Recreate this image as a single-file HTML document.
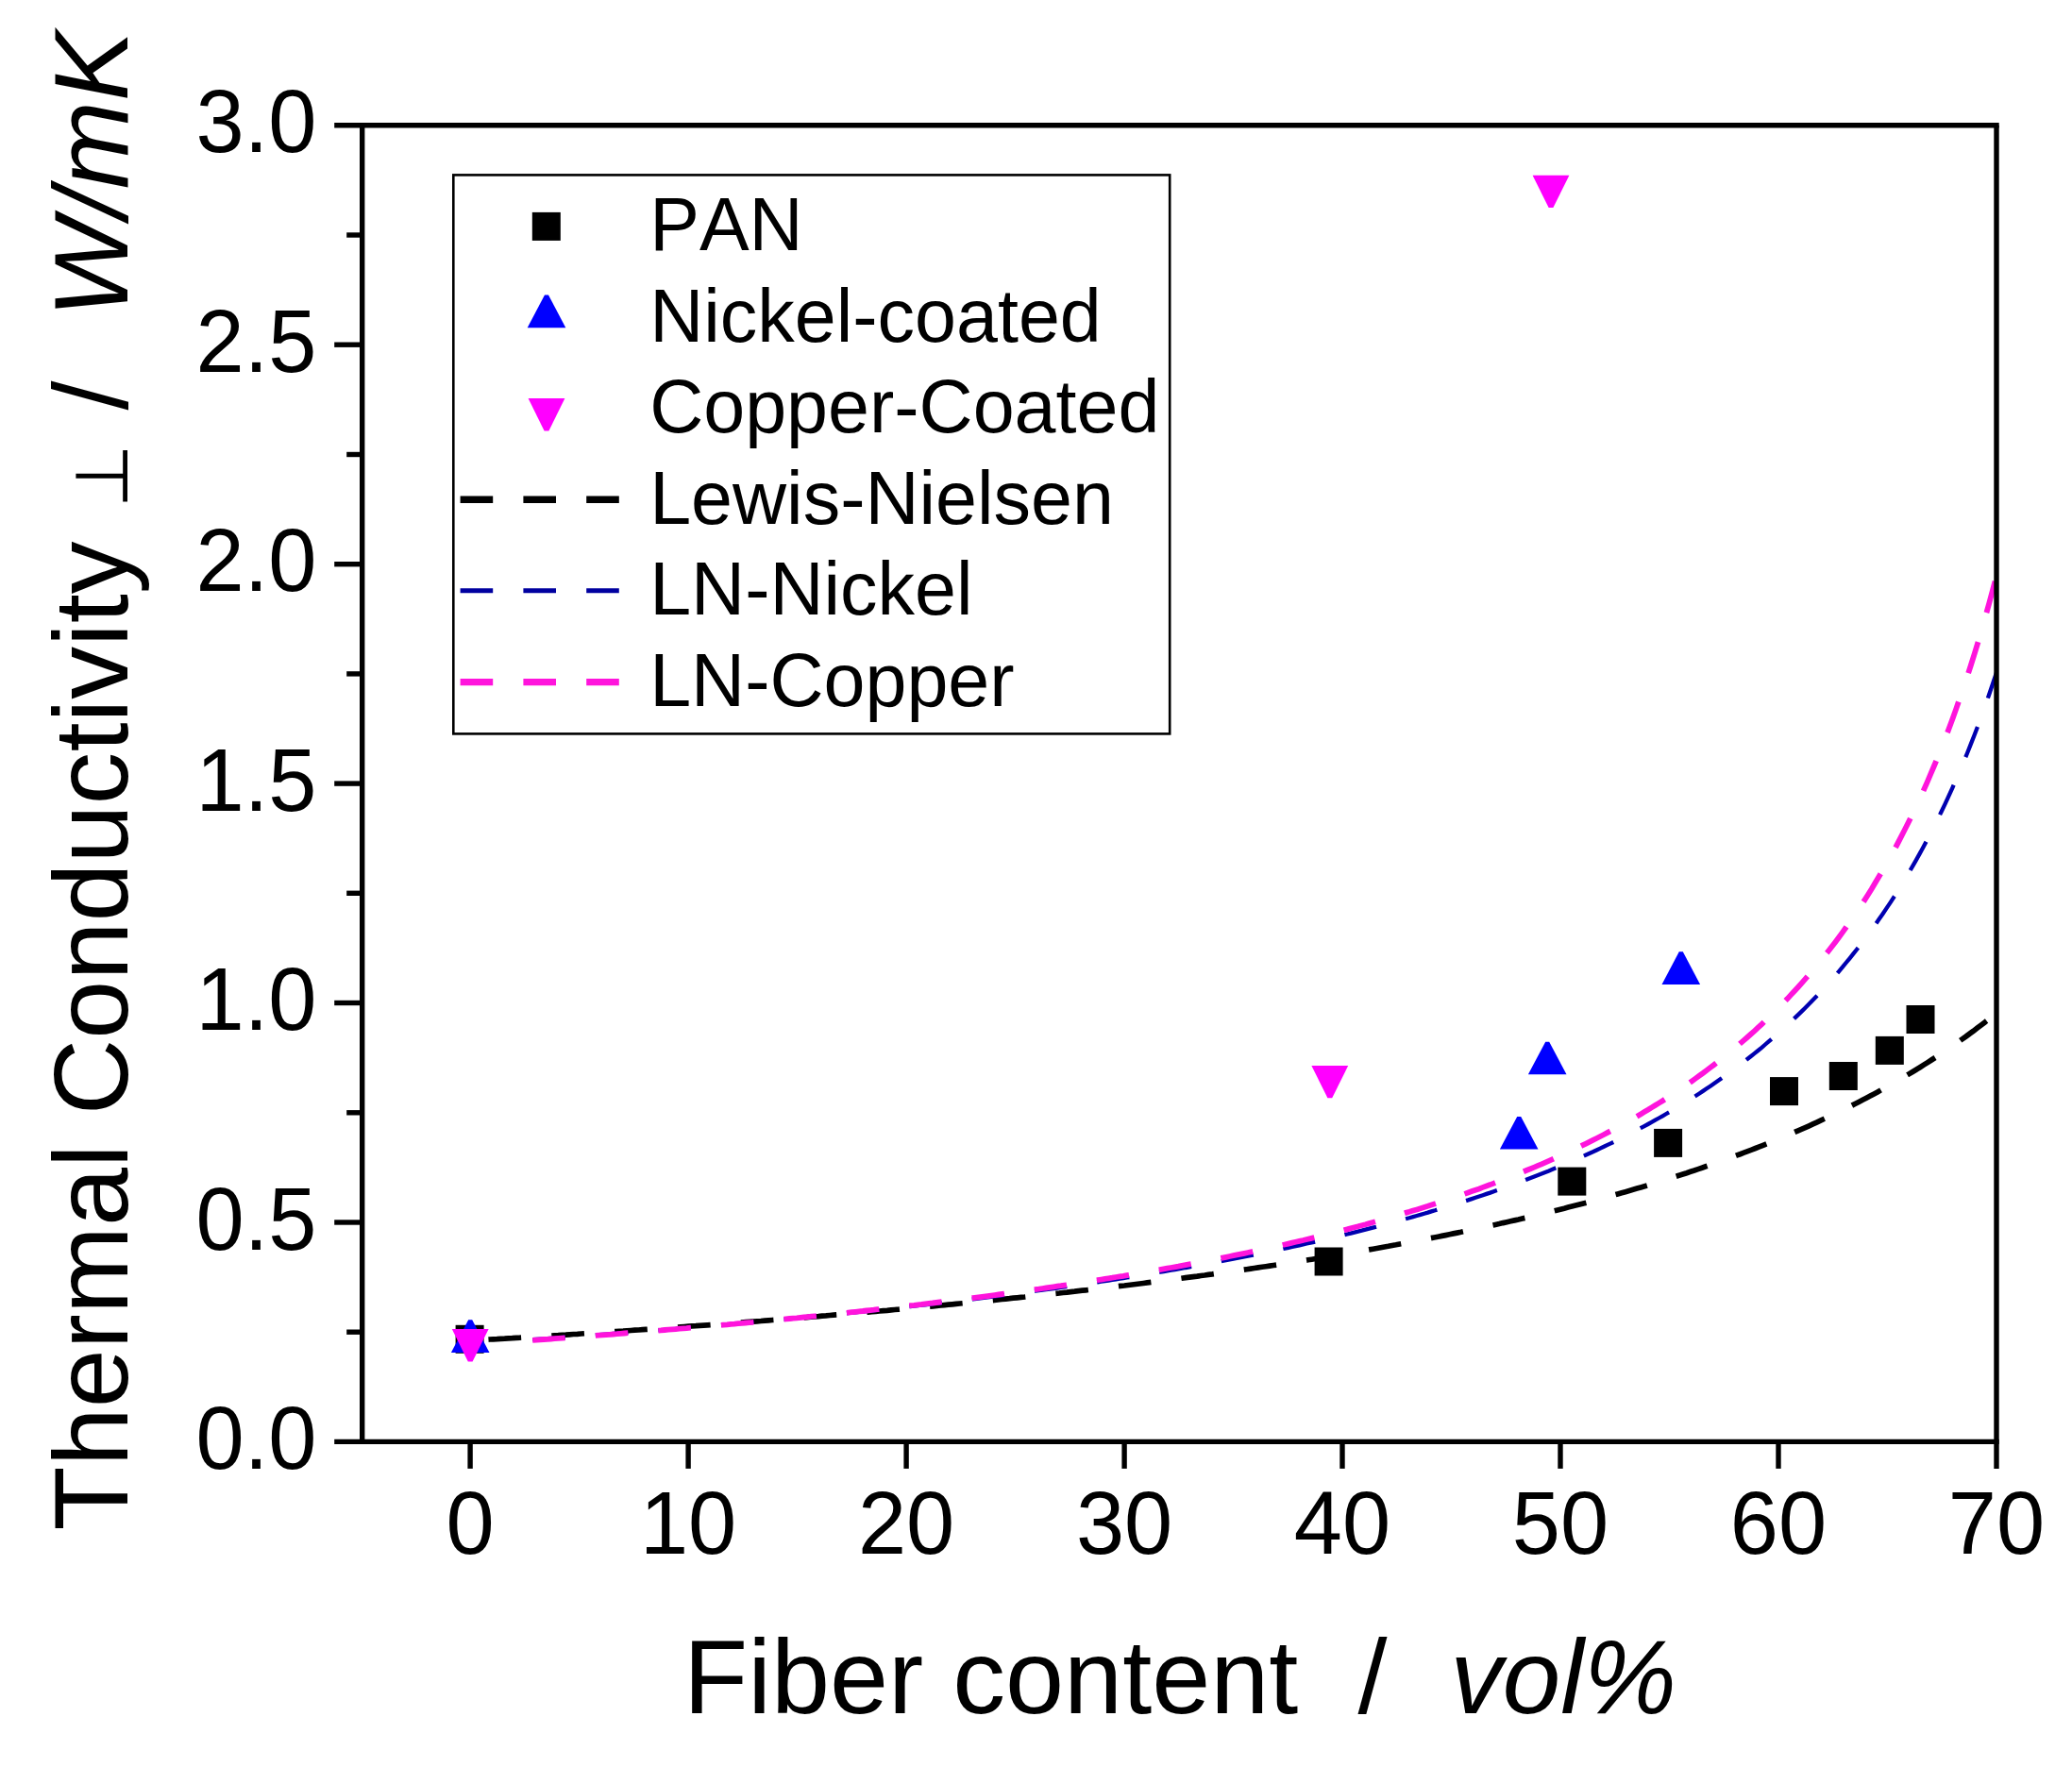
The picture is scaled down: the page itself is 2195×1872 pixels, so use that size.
<!DOCTYPE html><html><head><meta charset="utf-8"><title>Thermal Conductivity vs Fiber content</title>
<style>html,body{margin:0;padding:0;background:#fff;overflow:hidden}svg{display:block}text{font-family:"Liberation Sans",Arial,sans-serif;fill:#000;font-kerning:none;font-variant-ligatures:none}.sym{font-family:"DejaVu Sans","Liberation Sans",sans-serif}</style></head><body>
<svg width="2195" height="1872" viewBox="0 0 2195 1872">
<rect width="2195" height="1872" fill="#fff"/>
<g id="markers">
<rect x="482.6" y="1403.8" width="30" height="30" fill="#000"/>
<rect x="1392.6" y="1321.5" width="30" height="30" fill="#000"/>
<rect x="1650.3" y="1236.6" width="30" height="30" fill="#000"/>
<rect x="1752.1" y="1195.9" width="30" height="30" fill="#000"/>
<rect x="1875.0" y="1141.1" width="30" height="30" fill="#000"/>
<rect x="1937.8" y="1125.0" width="30" height="30" fill="#000"/>
<rect x="1986.8" y="1097.9" width="30" height="30" fill="#000"/>
<rect x="2019.5" y="1065.0" width="30" height="30" fill="#000"/>
<polygon points="496.2,1398.3 500.2,1398.3 518.5,1432.9 477.9,1432.9" fill="#0000ff"/>
<polygon points="1607.2,1182.9 1611.2,1182.9 1629.5,1217.5 1588.9,1217.5" fill="#0000ff"/>
<polygon points="1637.2,1103.7 1641.2,1103.7 1659.5,1138.3 1618.9,1138.3" fill="#0000ff"/>
<polygon points="1778.8,1008.3 1782.8,1008.3 1801.1,1042.9 1760.5,1042.9" fill="#0000ff"/>
<polygon points="495.8,1442.4 500.6,1442.4 517.6,1408.0 478.8,1408.0" fill="#ff00ff"/>
<polygon points="1406.4,1163.3 1411.2,1163.3 1428.2,1128.9 1389.4,1128.9" fill="#ff00ff"/>
<polygon points="1640.6,220.1 1645.4,220.1 1662.4,185.7 1623.6,185.7" fill="#ff00ff"/>
</g>
<g fill="none">
<path d="M498.1 1420.2 L502.2 1420.0 L506.2 1419.8 L510.3 1419.5 L514.3 1419.3 L518.4 1419.0 L522.4 1418.8 L526.5 1418.6 L530.5 1418.3 L534.6 1418.1 L538.6 1417.8 L542.7 1417.6 L546.7 1417.3 L550.8 1417.1 L554.8 1416.8 L558.9 1416.6 L562.9 1416.3 L567.0 1416.1 L571.0 1415.8 L575.1 1415.6 L579.1 1415.3 L583.2 1415.1 L587.3 1414.8 L591.3 1414.6 L595.4 1414.3 L599.4 1414.1 L603.5 1413.8 L607.5 1413.5 L611.6 1413.3 L615.6 1413.0 L619.7 1412.7 L623.7 1412.5 L627.8 1412.2 L631.8 1412.0 L635.9 1411.7 L639.9 1411.4 L644.0 1411.1 L648.0 1410.9 L652.1 1410.6 L656.1 1410.3 L660.2 1410.1 L664.2 1409.8 L668.3 1409.5 L672.4 1409.2 L676.4 1409.0 L680.5 1408.7 L684.5 1408.4 L688.6 1408.1 L692.6 1407.8 L696.7 1407.5 L700.7 1407.3 L704.8 1407.0 L708.8 1406.7 L712.9 1406.4 L716.9 1406.1 L721.0 1405.8 L725.0 1405.5 L729.1 1405.2 L733.1 1404.9 L737.2 1404.7 L741.2 1404.4 L745.3 1404.1 L749.3 1403.8 L753.4 1403.5 L757.5 1403.2 L761.5 1402.9 L765.6 1402.6 L769.6 1402.3 L773.7 1401.9 L777.7 1401.6 L781.8 1401.3 L785.8 1401.0 L789.9 1400.7 L793.9 1400.4 L798.0 1400.1 L802.0 1399.8 L806.1 1399.5 L810.1 1399.1 L814.2 1398.8 L818.2 1398.5 L822.3 1398.2 L826.3 1397.9 L830.4 1397.5 L834.4 1397.2 L838.5 1396.9 L842.6 1396.6 L846.6 1396.2 L850.7 1395.9 L854.7 1395.6 L858.8 1395.2 L862.8 1394.9 L866.9 1394.6 L870.9 1394.2 L875.0 1393.9 L879.0 1393.5 L883.1 1393.2 L887.1 1392.9 L891.2 1392.5 L895.2 1392.2 L899.3 1391.8 L903.3 1391.5 L907.4 1391.1 L911.4 1390.8 L915.5 1390.4 L919.5 1390.1 L923.6 1389.7 L927.7 1389.3 L931.7 1389.0 L935.8 1388.6 L939.8 1388.3 L943.9 1387.9 L947.9 1387.5 L952.0 1387.2 L956.0 1386.8 L960.1 1386.4 L964.1 1386.0 L968.2 1385.7 L972.2 1385.3 L976.3 1384.9 L980.3 1384.5 L984.4 1384.1 L988.4 1383.8 L992.5 1383.4 L996.5 1383.0 L1000.6 1382.6 L1004.6 1382.2 L1008.7 1381.8 L1012.8 1381.4 L1016.8 1381.0 L1020.9 1380.6 L1024.9 1380.2 L1029.0 1379.8 L1033.0 1379.4 L1037.1 1379.0 L1041.1 1378.6 L1045.2 1378.2 L1049.2 1377.8 L1053.3 1377.4 L1057.3 1376.9 L1061.4 1376.5 L1065.4 1376.1 L1069.5 1375.7 L1073.5 1375.2 L1077.6 1374.8 L1081.6 1374.4 L1085.7 1374.0 L1089.7 1373.5 L1093.8 1373.1 L1097.9 1372.7 L1101.9 1372.2 L1106.0 1371.8 L1110.0 1371.3 L1114.1 1370.9 L1118.1 1370.4 L1122.2 1370.0 L1126.2 1369.5 L1130.3 1369.1 L1134.3 1368.6 L1138.4 1368.2 L1142.4 1367.7 L1146.5 1367.2 L1150.5 1366.8 L1154.6 1366.3 L1158.6 1365.8 L1162.7 1365.3 L1166.7 1364.9 L1170.8 1364.4 L1174.8 1363.9 L1178.9 1363.4 L1183.0 1362.9 L1187.0 1362.4 L1191.1 1362.0 L1195.1 1361.5 L1199.2 1361.0 L1203.2 1360.5 L1207.3 1360.0 L1211.3 1359.5 L1215.4 1358.9 L1219.4 1358.4 L1223.5 1357.9 L1227.5 1357.4 L1231.6 1356.9 L1235.6 1356.4 L1239.7 1355.8 L1243.7 1355.3 L1247.8 1354.8 L1251.8 1354.2 L1255.9 1353.7 L1259.9 1353.2 L1264.0 1352.6 L1268.1 1352.1 L1272.1 1351.5 L1276.2 1351.0 L1280.2 1350.4 L1284.3 1349.9 L1288.3 1349.3 L1292.4 1348.7 L1296.4 1348.2 L1300.5 1347.6 L1304.5 1347.0 L1308.6 1346.5 L1312.6 1345.9 L1316.7 1345.3 L1320.7 1344.7 L1324.8 1344.1 L1328.8 1343.5 L1332.9 1342.9 L1336.9 1342.3 L1341.0 1341.7 L1345.0 1341.1 L1349.1 1340.5 L1353.2 1339.9 L1357.2 1339.3 L1361.3 1338.6 L1365.3 1338.0 L1369.4 1337.4 L1373.4 1336.7 L1377.5 1336.1 L1381.5 1335.5 L1385.6 1334.8 L1389.6 1334.2 L1393.7 1333.5 L1397.7 1332.9 L1401.8 1332.2 L1405.8 1331.5 L1409.9 1330.9 L1413.9 1330.2 L1418.0 1329.5 L1422.0 1328.8 L1426.1 1328.1 L1430.1 1327.4 L1434.2 1326.7 L1438.3 1326.0 L1442.3 1325.3 L1446.4 1324.6 L1450.4 1323.9 L1454.5 1323.2 L1458.5 1322.5 L1462.6 1321.7 L1466.6 1321.0 L1470.7 1320.3 L1474.7 1319.5 L1478.8 1318.8 L1482.8 1318.0 L1486.9 1317.3 L1490.9 1316.5 L1495.0 1315.7 L1499.0 1315.0 L1503.1 1314.2 L1507.1 1313.4 L1511.2 1312.6 L1515.2 1311.8 L1519.3 1311.0 L1523.4 1310.2 L1527.4 1309.4 L1531.5 1308.6 L1535.5 1307.8 L1539.6 1306.9 L1543.6 1306.1 L1547.7 1305.3 L1551.7 1304.4 L1555.8 1303.6 L1559.8 1302.7 L1563.9 1301.9 L1567.9 1301.0 L1572.0 1300.1 L1576.0 1299.2 L1580.1 1298.3 L1584.1 1297.5 L1588.2 1296.6 L1592.2 1295.6 L1596.3 1294.7 L1600.3 1293.8 L1604.4 1292.9 L1608.5 1292.0 L1612.5 1291.0 L1616.6 1290.1 L1620.6 1289.1 L1624.7 1288.1 L1628.7 1287.2 L1632.8 1286.2 L1636.8 1285.2 L1640.9 1284.2 L1644.9 1283.2 L1649.0 1282.2 L1653.0 1281.2 L1657.1 1280.2 L1661.1 1279.1 L1665.2 1278.1 L1669.2 1277.1 L1673.3 1276.0 L1677.3 1274.9 L1681.4 1273.9 L1685.4 1272.8 L1689.5 1271.7 L1693.6 1270.6 L1697.6 1269.5 L1701.7 1268.4 L1705.7 1267.3 L1709.8 1266.1 L1713.8 1265.0 L1717.9 1263.8 L1721.9 1262.7 L1726.0 1261.5 L1730.0 1260.3 L1734.1 1259.1 L1738.1 1257.9 L1742.2 1256.7 L1746.2 1255.5 L1750.3 1254.3 L1754.3 1253.0 L1758.4 1251.8 L1762.4 1250.5 L1766.5 1249.2 L1770.5 1247.9 L1774.6 1246.6 L1778.7 1245.3 L1782.7 1244.0 L1786.8 1242.7 L1790.8 1241.3 L1794.9 1240.0 L1798.9 1238.6 L1803.0 1237.2 L1807.0 1235.8 L1811.1 1234.4 L1815.1 1233.0 L1819.2 1231.6 L1823.2 1230.1 L1827.3 1228.7 L1831.3 1227.2 L1835.4 1225.7 L1839.4 1224.2 L1843.5 1222.7 L1847.5 1221.2 L1851.6 1219.6 L1855.6 1218.1 L1859.7 1216.5 L1863.8 1214.9 L1867.8 1213.3 L1871.9 1211.7 L1875.9 1210.0 L1880.0 1208.4 L1884.0 1206.7 L1888.1 1205.0 L1892.1 1203.3 L1896.2 1201.6 L1900.2 1199.9 L1904.3 1198.1 L1908.3 1196.4 L1912.4 1194.6 L1916.4 1192.8 L1920.5 1190.9 L1924.5 1189.1 L1928.6 1187.2 L1932.6 1185.3 L1936.7 1183.4 L1940.7 1181.5 L1944.8 1179.6 L1948.9 1177.6 L1952.9 1175.6 L1957.0 1173.6 L1961.0 1171.6 L1965.1 1169.5 L1969.1 1167.4 L1973.2 1165.3 L1977.2 1163.2 L1981.3 1161.0 L1985.3 1158.9 L1989.4 1156.7 L1993.4 1154.4 L1997.5 1152.2 L2001.5 1149.9 L2005.6 1147.6 L2009.6 1145.3 L2013.7 1142.9 L2017.7 1140.5 L2021.8 1138.1 L2025.8 1135.7 L2029.9 1133.2 L2034.0 1130.7 L2038.0 1128.2 L2042.1 1125.6 L2046.1 1123.0 L2050.2 1120.4 L2054.2 1117.7 L2058.3 1115.0 L2062.3 1112.3 L2066.4 1109.5 L2070.4 1106.7 L2074.5 1103.9 L2078.5 1101.0 L2082.6 1098.1 L2086.6 1095.1 L2090.7 1092.2 L2094.7 1089.1 L2098.8 1086.0 L2102.8 1082.9 L2106.9 1079.8 L2110.9 1076.6 L2115.0 1073.3" stroke="#000" stroke-width="5.7" stroke-dasharray="34.7 32.3" stroke-dashoffset="47.6"/>
<path d="M564.2 1419.2 L568.1 1418.9 L572.0 1418.6 L575.9 1418.4 L579.7 1418.1 L583.6 1417.8 L587.5 1417.6 L591.4 1417.3 L595.3 1417.0 L599.2 1416.7 L603.1 1416.4 L607.0 1416.2 L610.8 1415.9 L614.7 1415.6 L618.6 1415.3 L622.5 1415.0 L626.4 1414.7 L630.3 1414.5 L634.2 1414.2 L638.0 1413.9 L641.9 1413.6 L645.8 1413.3 L649.7 1413.0 L653.6 1412.7 L657.5 1412.4 L661.4 1412.1 L665.3 1411.8 L669.1 1411.5 L673.0 1411.2 L676.9 1410.9 L680.8 1410.6 L684.7 1410.3 L688.6 1410.0 L692.5 1409.7 L696.3 1409.4 L700.2 1409.1 L704.1 1408.8 L708.0 1408.4 L711.9 1408.1 L715.8 1407.8 L719.7 1407.5 L723.6 1407.2 L727.4 1406.8 L731.3 1406.5 L735.2 1406.2 L739.1 1405.9 L743.0 1405.5 L746.9 1405.2 L750.8 1404.9 L754.6 1404.6 L758.5 1404.2 L762.4 1403.9 L766.3 1403.6 L770.2 1403.2 L774.1 1402.9 L778.0 1402.5 L781.9 1402.2 L785.7 1401.8 L789.6 1401.5 L793.5 1401.2 L797.4 1400.8 L801.3 1400.5 L805.2 1400.1 L809.1 1399.7 L812.9 1399.4 L816.8 1399.0 L820.7 1398.7 L824.6 1398.3 L828.5 1397.9 L832.4 1397.6 L836.3 1397.2 L840.2 1396.8 L844.0 1396.5 L847.9 1396.1 L851.8 1395.7 L855.7 1395.4 L859.6 1395.0 L863.5 1394.6 L867.4 1394.2 L871.3 1393.8 L875.1 1393.4 L879.0 1393.1 L882.9 1392.7 L886.8 1392.3 L890.7 1391.9 L894.6 1391.5 L898.5 1391.1 L902.3 1390.7 L906.2 1390.3 L910.1 1389.9 L914.0 1389.5 L917.9 1389.1 L921.8 1388.7 L925.7 1388.3 L929.6 1387.8 L933.4 1387.4 L937.3 1387.0 L941.2 1386.6 L945.1 1386.2 L949.0 1385.7 L952.9 1385.3 L956.8 1384.9 L960.6 1384.4 L964.5 1384.0 L968.4 1383.6 L972.3 1383.1 L976.2 1382.7 L980.1 1382.3 L984.0 1381.8 L987.9 1381.4 L991.7 1380.9 L995.6 1380.5 L999.5 1380.0 L1003.4 1379.5 L1007.3 1379.1 L1011.2 1378.6 L1015.1 1378.1 L1018.9 1377.7 L1022.8 1377.2 L1026.7 1376.7 L1030.6 1376.3 L1034.5 1375.8 L1038.4 1375.3 L1042.3 1374.8 L1046.2 1374.3 L1050.0 1373.8 L1053.9 1373.3 L1057.8 1372.8 L1061.7 1372.3 L1065.6 1371.8 L1069.5 1371.3 L1073.4 1370.8 L1077.2 1370.3 L1081.1 1369.8 L1085.0 1369.3 L1088.9 1368.8 L1092.8 1368.2 L1096.7 1367.7 L1100.6 1367.2 L1104.5 1366.6 L1108.3 1366.1 L1112.2 1365.6 L1116.1 1365.0 L1120.0 1364.5 L1123.9 1363.9 L1127.8 1363.4 L1131.7 1362.8 L1135.5 1362.3 L1139.4 1361.7 L1143.3 1361.1 L1147.2 1360.6 L1151.1 1360.0 L1155.0 1359.4 L1158.9 1358.8 L1162.8 1358.3 L1166.6 1357.7 L1170.5 1357.1 L1174.4 1356.5 L1178.3 1355.9 L1182.2 1355.3 L1186.1 1354.7 L1190.0 1354.1 L1193.8 1353.4 L1197.7 1352.8 L1201.6 1352.2 L1205.5 1351.6 L1209.4 1350.9 L1213.3 1350.3 L1217.2 1349.7 L1221.1 1349.0 L1224.9 1348.4 L1228.8 1347.7 L1232.7 1347.1 L1236.6 1346.4 L1240.5 1345.7 L1244.4 1345.1 L1248.3 1344.4 L1252.1 1343.7 L1256.0 1343.0 L1259.9 1342.4 L1263.8 1341.7 L1267.7 1341.0 L1271.6 1340.3 L1275.5 1339.6 L1279.4 1338.8 L1283.2 1338.1 L1287.1 1337.4 L1291.0 1336.7 L1294.9 1335.9 L1298.8 1335.2 L1302.7 1334.5 L1306.6 1333.7 L1310.4 1333.0 L1314.3 1332.2 L1318.2 1331.4 L1322.1 1330.7 L1326.0 1329.9 L1329.9 1329.1 L1333.8 1328.3 L1337.7 1327.5 L1341.5 1326.7 L1345.4 1325.9 L1349.3 1325.1 L1353.2 1324.3 L1357.1 1323.5 L1361.0 1322.6 L1364.9 1321.8 L1368.8 1321.0 L1372.6 1320.1 L1376.5 1319.3 L1380.4 1318.4 L1384.3 1317.5 L1388.2 1316.7 L1392.1 1315.8 L1396.0 1314.9 L1399.8 1314.0 L1403.7 1313.1 L1407.6 1312.2 L1411.5 1311.3 L1415.4 1310.3 L1419.3 1309.4 L1423.2 1308.5 L1427.1 1307.5 L1430.9 1306.6 L1434.8 1305.6 L1438.7 1304.6 L1442.6 1303.7 L1446.5 1302.7 L1450.4 1301.7 L1454.3 1300.7 L1458.1 1299.7 L1462.0 1298.7 L1465.9 1297.6 L1469.8 1296.6 L1473.7 1295.6 L1477.6 1294.5 L1481.5 1293.4 L1485.4 1292.4 L1489.2 1291.3 L1493.1 1290.2 L1497.0 1289.1 L1500.9 1288.0 L1504.8 1286.9 L1508.7 1285.7 L1512.6 1284.6 L1516.4 1283.4 L1520.3 1282.3 L1524.2 1281.1 L1528.1 1279.9 L1532.0 1278.7 L1535.9 1277.5 L1539.8 1276.3 L1543.7 1275.1 L1547.5 1273.9 L1551.4 1272.6 L1555.3 1271.4 L1559.2 1270.1 L1563.1 1268.8 L1567.0 1267.5 L1570.9 1266.2 L1574.7 1264.9 L1578.6 1263.6 L1582.5 1262.2 L1586.4 1260.9 L1590.3 1259.5 L1594.2 1258.1 L1598.1 1256.7 L1602.0 1255.3 L1605.8 1253.9 L1609.7 1252.4 L1613.6 1251.0 L1617.5 1249.5 L1621.4 1248.0 L1625.3 1246.5 L1629.2 1245.0 L1633.0 1243.5 L1636.9 1241.9 L1640.8 1240.4 L1644.7 1238.8 L1648.6 1237.2 L1652.5 1235.6 L1656.4 1233.9 L1660.3 1232.3 L1664.1 1230.6 L1668.0 1228.9 L1671.9 1227.2 L1675.8 1225.5 L1679.7 1223.8 L1683.6 1222.0 L1687.5 1220.3 L1691.3 1218.5 L1695.2 1216.6 L1699.1 1214.8 L1703.0 1212.9 L1706.9 1211.1 L1710.8 1209.2 L1714.7 1207.2 L1718.6 1205.3 L1722.4 1203.3 L1726.3 1201.3 L1730.2 1199.3 L1734.1 1197.3 L1738.0 1195.2 L1741.9 1193.1 L1745.8 1191.0 L1749.6 1188.9 L1753.5 1186.7 L1757.4 1184.5 L1761.3 1182.3 L1765.2 1180.0 L1769.1 1177.8 L1773.0 1175.5 L1776.9 1173.1 L1780.7 1170.8 L1784.6 1168.4 L1788.5 1165.9 L1792.4 1163.5 L1796.3 1161.0 L1800.2 1158.5 L1804.1 1155.9 L1807.9 1153.3 L1811.8 1150.7 L1815.7 1148.0 L1819.6 1145.3 L1823.5 1142.6 L1827.4 1139.8 L1831.3 1137.0 L1835.2 1134.1 L1839.0 1131.2 L1842.9 1128.3 L1846.8 1125.3 L1850.7 1122.3 L1854.6 1119.2 L1858.5 1116.1 L1862.4 1113.0 L1866.3 1109.8 L1870.1 1106.5 L1874.0 1103.2 L1877.9 1099.9 L1881.8 1096.4 L1885.7 1093.0 L1889.6 1089.5 L1893.5 1085.9 L1897.3 1082.3 L1901.2 1078.6 L1905.1 1074.9 L1909.0 1071.1 L1912.9 1067.2 L1916.8 1063.3 L1920.7 1059.3 L1924.6 1055.2 L1928.4 1051.1 L1932.3 1046.9 L1936.2 1042.6 L1940.1 1038.2 L1944.0 1033.8 L1947.9 1029.3 L1951.8 1024.7 L1955.6 1020.0 L1959.5 1015.3 L1963.4 1010.4 L1967.3 1005.5 L1971.2 1000.5 L1975.1 995.3 L1979.0 990.1 L1982.9 984.8 L1986.7 979.4 L1990.6 973.8 L1994.5 968.2 L1998.4 962.4 L2002.3 956.6 L2006.2 950.6 L2010.1 944.5 L2013.9 938.2 L2017.8 931.8 L2021.7 925.3 L2025.6 918.7 L2029.5 911.9 L2033.4 904.9 L2037.3 897.8 L2041.2 890.5 L2045.0 883.1 L2048.9 875.5 L2052.8 867.7 L2056.7 859.7 L2060.6 851.6 L2064.5 843.2 L2068.4 834.6 L2072.2 825.9 L2076.1 816.9 L2080.0 807.6 L2083.9 798.2 L2087.8 788.4 L2091.7 778.5 L2095.6 768.2 L2099.5 757.7 L2103.3 746.9 L2107.2 735.8 L2111.1 724.3 L2115.0 712.6" stroke="#0000b0" stroke-width="4.3" stroke-dasharray="34.6 32.2"/>
<path d="M564.2 1419.9 L568.1 1419.6 L572.0 1419.3 L575.9 1419.0 L579.7 1418.8 L583.6 1418.5 L587.5 1418.2 L591.4 1417.9 L595.3 1417.6 L599.2 1417.3 L603.1 1417.0 L607.0 1416.7 L610.8 1416.5 L614.7 1416.2 L618.6 1415.9 L622.5 1415.6 L626.4 1415.3 L630.3 1415.0 L634.2 1414.7 L638.0 1414.4 L641.9 1414.1 L645.8 1413.8 L649.7 1413.5 L653.6 1413.2 L657.5 1412.8 L661.4 1412.5 L665.3 1412.2 L669.1 1411.9 L673.0 1411.6 L676.9 1411.3 L680.8 1411.0 L684.7 1410.7 L688.6 1410.3 L692.5 1410.0 L696.3 1409.7 L700.2 1409.4 L704.1 1409.0 L708.0 1408.7 L711.9 1408.4 L715.8 1408.1 L719.7 1407.7 L723.6 1407.4 L727.4 1407.1 L731.3 1406.7 L735.2 1406.4 L739.1 1406.1 L743.0 1405.7 L746.9 1405.4 L750.8 1405.0 L754.6 1404.7 L758.5 1404.3 L762.4 1404.0 L766.3 1403.6 L770.2 1403.3 L774.1 1402.9 L778.0 1402.6 L781.9 1402.2 L785.7 1401.9 L789.6 1401.5 L793.5 1401.1 L797.4 1400.8 L801.3 1400.4 L805.2 1400.0 L809.1 1399.7 L812.9 1399.3 L816.8 1398.9 L820.7 1398.5 L824.6 1398.2 L828.5 1397.8 L832.4 1397.4 L836.3 1397.0 L840.2 1396.6 L844.0 1396.3 L847.9 1395.9 L851.8 1395.5 L855.7 1395.1 L859.6 1394.7 L863.5 1394.3 L867.4 1393.9 L871.3 1393.5 L875.1 1393.1 L879.0 1392.7 L882.9 1392.3 L886.8 1391.9 L890.7 1391.5 L894.6 1391.1 L898.5 1390.6 L902.3 1390.2 L906.2 1389.8 L910.1 1389.4 L914.0 1389.0 L917.9 1388.5 L921.8 1388.1 L925.7 1387.7 L929.6 1387.2 L933.4 1386.8 L937.3 1386.4 L941.2 1385.9 L945.1 1385.5 L949.0 1385.0 L952.9 1384.6 L956.8 1384.1 L960.6 1383.7 L964.5 1383.2 L968.4 1382.8 L972.3 1382.3 L976.2 1381.9 L980.1 1381.4 L984.0 1380.9 L987.9 1380.5 L991.7 1380.0 L995.6 1379.5 L999.5 1379.0 L1003.4 1378.5 L1007.3 1378.1 L1011.2 1377.6 L1015.1 1377.1 L1018.9 1376.6 L1022.8 1376.1 L1026.7 1375.6 L1030.6 1375.1 L1034.5 1374.6 L1038.4 1374.1 L1042.3 1373.6 L1046.2 1373.1 L1050.0 1372.6 L1053.9 1372.0 L1057.8 1371.5 L1061.7 1371.0 L1065.6 1370.5 L1069.5 1369.9 L1073.4 1369.4 L1077.2 1368.9 L1081.1 1368.3 L1085.0 1367.8 L1088.9 1367.2 L1092.8 1366.7 L1096.7 1366.1 L1100.6 1365.6 L1104.5 1365.0 L1108.3 1364.5 L1112.2 1363.9 L1116.1 1363.3 L1120.0 1362.7 L1123.9 1362.2 L1127.8 1361.6 L1131.7 1361.0 L1135.5 1360.4 L1139.4 1359.8 L1143.3 1359.2 L1147.2 1358.6 L1151.1 1358.0 L1155.0 1357.4 L1158.9 1356.8 L1162.8 1356.2 L1166.6 1355.6 L1170.5 1354.9 L1174.4 1354.3 L1178.3 1353.7 L1182.2 1353.0 L1186.1 1352.4 L1190.0 1351.8 L1193.8 1351.1 L1197.7 1350.5 L1201.6 1349.8 L1205.5 1349.1 L1209.4 1348.5 L1213.3 1347.8 L1217.2 1347.1 L1221.1 1346.4 L1224.9 1345.8 L1228.8 1345.1 L1232.7 1344.4 L1236.6 1343.7 L1240.5 1343.0 L1244.4 1342.3 L1248.3 1341.6 L1252.1 1340.8 L1256.0 1340.1 L1259.9 1339.4 L1263.8 1338.7 L1267.7 1337.9 L1271.6 1337.2 L1275.5 1336.4 L1279.4 1335.7 L1283.2 1334.9 L1287.1 1334.1 L1291.0 1333.4 L1294.9 1332.6 L1298.8 1331.8 L1302.7 1331.0 L1306.6 1330.2 L1310.4 1329.4 L1314.3 1328.6 L1318.2 1327.8 L1322.1 1327.0 L1326.0 1326.2 L1329.9 1325.3 L1333.8 1324.5 L1337.7 1323.7 L1341.5 1322.8 L1345.4 1322.0 L1349.3 1321.1 L1353.2 1320.2 L1357.1 1319.4 L1361.0 1318.5 L1364.9 1317.6 L1368.8 1316.7 L1372.6 1315.8 L1376.5 1314.9 L1380.4 1314.0 L1384.3 1313.0 L1388.2 1312.1 L1392.1 1311.2 L1396.0 1310.2 L1399.8 1309.3 L1403.7 1308.3 L1407.6 1307.3 L1411.5 1306.3 L1415.4 1305.4 L1419.3 1304.4 L1423.2 1303.4 L1427.1 1302.4 L1430.9 1301.3 L1434.8 1300.3 L1438.7 1299.3 L1442.6 1298.2 L1446.5 1297.2 L1450.4 1296.1 L1454.3 1295.0 L1458.1 1293.9 L1462.0 1292.9 L1465.9 1291.8 L1469.8 1290.6 L1473.7 1289.5 L1477.6 1288.4 L1481.5 1287.3 L1485.4 1286.1 L1489.2 1284.9 L1493.1 1283.8 L1497.0 1282.6 L1500.9 1281.4 L1504.8 1280.2 L1508.7 1279.0 L1512.6 1277.8 L1516.4 1276.5 L1520.3 1275.3 L1524.2 1274.0 L1528.1 1272.7 L1532.0 1271.5 L1535.9 1270.2 L1539.8 1268.9 L1543.7 1267.5 L1547.5 1266.2 L1551.4 1264.9 L1555.3 1263.5 L1559.2 1262.1 L1563.1 1260.7 L1567.0 1259.4 L1570.9 1257.9 L1574.7 1256.5 L1578.6 1255.1 L1582.5 1253.6 L1586.4 1252.1 L1590.3 1250.7 L1594.2 1249.2 L1598.1 1247.6 L1602.0 1246.1 L1605.8 1244.6 L1609.7 1243.0 L1613.6 1241.4 L1617.5 1239.8 L1621.4 1238.2 L1625.3 1236.6 L1629.2 1234.9 L1633.0 1233.3 L1636.9 1231.6 L1640.8 1229.9 L1644.7 1228.2 L1648.6 1226.4 L1652.5 1224.7 L1656.4 1222.9 L1660.3 1221.1 L1664.1 1219.3 L1668.0 1217.5 L1671.9 1215.6 L1675.8 1213.7 L1679.7 1211.8 L1683.6 1209.9 L1687.5 1207.9 L1691.3 1206.0 L1695.2 1204.0 L1699.1 1202.0 L1703.0 1199.9 L1706.9 1197.9 L1710.8 1195.8 L1714.7 1193.7 L1718.6 1191.5 L1722.4 1189.4 L1726.3 1187.2 L1730.2 1185.0 L1734.1 1182.7 L1738.0 1180.4 L1741.9 1178.1 L1745.8 1175.8 L1749.6 1173.4 L1753.5 1171.0 L1757.4 1168.6 L1761.3 1166.2 L1765.2 1163.7 L1769.1 1161.1 L1773.0 1158.6 L1776.9 1156.0 L1780.7 1153.4 L1784.6 1150.7 L1788.5 1148.0 L1792.4 1145.3 L1796.3 1142.5 L1800.2 1139.7 L1804.1 1136.9 L1807.9 1134.0 L1811.8 1131.0 L1815.7 1128.1 L1819.6 1125.0 L1823.5 1122.0 L1827.4 1118.9 L1831.3 1115.7 L1835.2 1112.5 L1839.0 1109.3 L1842.9 1106.0 L1846.8 1102.6 L1850.7 1099.2 L1854.6 1095.8 L1858.5 1092.3 L1862.4 1088.7 L1866.3 1085.1 L1870.1 1081.4 L1874.0 1077.7 L1877.9 1073.9 L1881.8 1070.0 L1885.7 1066.1 L1889.6 1062.1 L1893.5 1058.1 L1897.3 1053.9 L1901.2 1049.7 L1905.1 1045.5 L1909.0 1041.1 L1912.9 1036.7 L1916.8 1032.2 L1920.7 1027.7 L1924.6 1023.0 L1928.4 1018.3 L1932.3 1013.4 L1936.2 1008.5 L1940.1 1003.5 L1944.0 998.4 L1947.9 993.2 L1951.8 987.9 L1955.6 982.5 L1959.5 977.0 L1963.4 971.3 L1967.3 965.6 L1971.2 959.7 L1975.1 953.8 L1979.0 947.7 L1982.9 941.5 L1986.7 935.1 L1990.6 928.6 L1994.5 922.0 L1998.4 915.2 L2002.3 908.3 L2006.2 901.2 L2010.1 894.0 L2013.9 886.6 L2017.8 879.0 L2021.7 871.2 L2025.6 863.3 L2029.5 855.2 L2033.4 846.9 L2037.3 838.3 L2041.2 829.6 L2045.0 820.7 L2048.9 811.5 L2052.8 802.1 L2056.7 792.4 L2060.6 782.5 L2064.5 772.3 L2068.4 761.8 L2072.2 751.1 L2076.1 740.0 L2080.0 728.7 L2083.9 717.0 L2087.8 705.0 L2091.7 692.6 L2095.6 679.8 L2099.5 666.7 L2103.3 653.2 L2107.2 639.2 L2111.1 624.8 L2115.0 609.9" stroke="#ff14dc" stroke-width="5.8" stroke-dasharray="34.6 32.2"/>
</g>
<g stroke="#000" stroke-width="5.4" fill="none" stroke-linecap="butt">
<path d="M354.2 132.8 H2117.7 M354.2 1527.4 H2117.7"/>
<path d="M383.7 132.8 V1527.4 M2115.0 132.8 V1555.9"/>
<path d="M367.2 1411.2 H383.7"/>
<path d="M354.2 1295.0 H383.7"/>
<path d="M367.2 1178.8 H383.7"/>
<path d="M354.2 1062.5 H383.7"/>
<path d="M367.2 946.3 H383.7"/>
<path d="M354.2 830.1 H383.7"/>
<path d="M367.2 713.9 H383.7"/>
<path d="M354.2 597.7 H383.7"/>
<path d="M367.2 481.5 H383.7"/>
<path d="M354.2 365.2 H383.7"/>
<path d="M367.2 249.0 H383.7"/>
<path d="M498.1 1527.4 V1555.9"/>
<path d="M729.1 1527.4 V1555.9"/>
<path d="M960.1 1527.4 V1555.9"/>
<path d="M1191.1 1527.4 V1555.9"/>
<path d="M1422.0 1527.4 V1555.9"/>
<path d="M1653.0 1527.4 V1555.9"/>
<path d="M1884.0 1527.4 V1555.9"/>
</g>
<g font-size="92">
<text transform="translate(335.5 1556.0) scale(1 1.025)" text-anchor="end">0.0</text>
<text transform="translate(335.5 1323.6) scale(1 1.025)" text-anchor="end">0.5</text>
<text transform="translate(335.5 1091.1) scale(1 1.025)" text-anchor="end">1.0</text>
<text transform="translate(335.5 858.7) scale(1 1.025)" text-anchor="end">1.5</text>
<text transform="translate(335.5 626.3) scale(1 1.025)" text-anchor="end">2.0</text>
<text transform="translate(335.5 393.8) scale(1 1.025)" text-anchor="end">2.5</text>
<text transform="translate(335.5 161.4) scale(1 1.025)" text-anchor="end">3.0</text>
<text transform="translate(498.1 1646.2) scale(1 1.025)" text-anchor="middle">0</text>
<text transform="translate(729.1 1646.2) scale(1 1.025)" text-anchor="middle">10</text>
<text transform="translate(960.1 1646.2) scale(1 1.025)" text-anchor="middle">20</text>
<text transform="translate(1191.1 1646.2) scale(1 1.025)" text-anchor="middle">30</text>
<text transform="translate(1422.0 1646.2) scale(1 1.025)" text-anchor="middle">40</text>
<text transform="translate(1653.0 1646.2) scale(1 1.025)" text-anchor="middle">50</text>
<text transform="translate(1884.0 1646.2) scale(1 1.025)" text-anchor="middle">60</text>
<text transform="translate(2115.0 1646.2) scale(1 1.025)" text-anchor="middle">70</text>
</g>
<g font-size="111.6"><text x="724.0" y="1814.5">Fiber content</text><text x="1438.4" y="1814.5">/</text><text x="1536.6" y="1814.5" font-style="italic" font-size="110.4">vol%</text></g>
<g transform="rotate(-90)" font-size="111.6">
<text x="-1621.5" y="135.3">Thermal Conductivity</text>
<text class="sym" x="-538.1" y="135.3" font-size="78">⊥</text>
<text x="-434.5" y="135.3">/</text>
<text x="-336.5" y="135.3" font-style="italic">W/mK</text>
</g>
<rect x="480.3" y="185.4" width="758.9" height="592.0" fill="#fff" stroke="#000" stroke-width="2.6"/>
<g font-size="79">
<text x="688.2" y="265.0">PAN</text>
<text x="688.2" y="361.6">Nickel-coated</text>
<text x="688.2" y="458.2">Copper-Coated</text>
<text x="688.2" y="554.8">Lewis-Nielsen</text>
<text x="688.2" y="651.4">LN-Nickel</text>
<text x="688.2" y="748.0">LN-Copper</text>
</g>
<rect x="563.8" y="224.9" width="30" height="30" fill="#000"/>
<polygon points="577.0,312.6 581.0,312.6 599.3,347.2 558.7,347.2" fill="#0000ff"/>
<polygon points="576.6,456.5 581.4,456.5 598.4,422.1 559.6,422.1" fill="#ff00ff"/>
<path d="M487.6 529.2 H656.2" stroke="#000" stroke-width="7.6" stroke-dasharray="34.6 32.2" fill="none"/>
<path d="M487.6 625.8 H656.2" stroke="#0000a0" stroke-width="5" stroke-dasharray="34.6 32.2" fill="none"/>
<path d="M487.6 722.6 H656.2" stroke="#ff14dc" stroke-width="7.4" stroke-dasharray="34.6 32.2" fill="none"/>
</svg></body></html>
